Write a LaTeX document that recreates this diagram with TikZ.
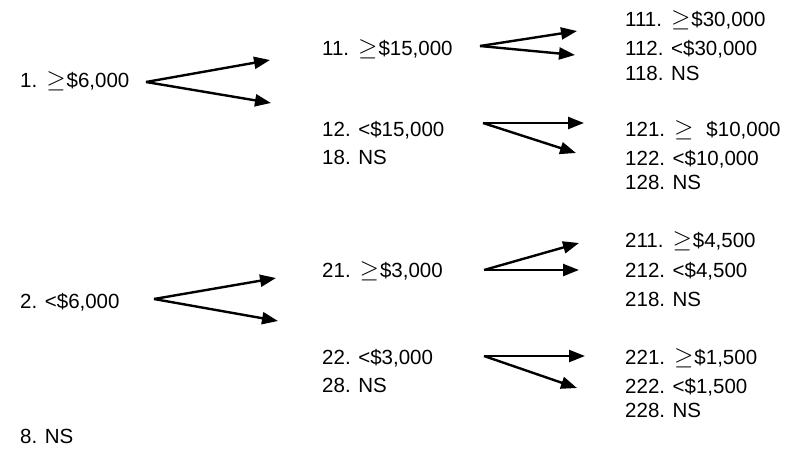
\documentclass[tikz,border=0pt]{standalone}
\usepackage{fontspec}
\setmainfont{Liberation Sans}
\usetikzlibrary{arrows.meta}
\newcommand{\mygeq}{\hspace{9pt}{\fontsize{25}{30}\selectfont$\geq$}\hspace{1pt}}
\newcommand{\mygeqs}{\hspace{9pt}{\fontsize{25}{30}\selectfont$\geq$}\hspace{13pt}}
\begin{document}
\begin{tikzpicture}[x=1pt,y=-1pt,
  lbl/.style={anchor=base west,inner sep=0pt,font=\fontsize{20.5}{24}\selectfont},
  arr/.style={line width=2.4pt,-{Triangle[length=16pt,width=12pt]}}]
\useasboundingbox (0,0) rectangle (794,458);
% column 1
\node[lbl] (n1) at (20,87) {1.\mygeq\$6,000};
\node[lbl] (n2) at (20,308) {2. <\$6,000};
\node[lbl] (n8) at (20,443) {8. NS};
% column 2
\node[lbl] (n11) at (322,55) {11.\mygeq\$15,000};
\node[lbl] (n12) at (322,136) {12. <\$15,000};
\node[lbl] (n18) at (322,164) {18. NS};
\node[lbl] (n21) at (322,277) {21.\mygeq\$3,000};
\node[lbl] (n22) at (322,364) {22. <\$3,000};
\node[lbl] (n28) at (322,392) {28. NS};
% column 3
\node[lbl] (n111) at (625,26) {111.\mygeq\$30,000};
\node[lbl] (n112) at (625,55) {112. <\$30,000};
\node[lbl] (n118) at (625,80) {118. NS};
\node[lbl] (n121) at (625,136) {121.\mygeqs\$10,000};
\node[lbl] (n122) at (625,165) {122. <\$10,000};
\node[lbl] (n128) at (625,189) {128. NS};
\node[lbl] (n211) at (625,247) {211.\mygeq\$4,500};
\node[lbl] (n212) at (625,277) {212. <\$4,500};
\node[lbl] (n218) at (625,306) {218. NS};
\node[lbl] (n221) at (625,364) {221.\mygeq\$1,500};
\node[lbl] (n222) at (625,393) {222. <\$1,500};
\node[lbl] (n228) at (625,417) {228. NS};
% arrow coordinates
\coordinate (s1) at (146,82);
\coordinate (t1a) at (270,60);
\coordinate (t1b) at (271,103);
\coordinate (s2) at (154,299);
\coordinate (t2a) at (276,278);
\coordinate (t2b) at (278,321);
\coordinate (s11) at (480,46);
\coordinate (t11a) at (577,31);
\coordinate (t11b) at (575,55);
\coordinate (s12) at (483,123);
\coordinate (t12a) at (584,123);
\coordinate (t12b) at (576,153);
\coordinate (s21) at (484,270);
\coordinate (t21a) at (579,243);
\coordinate (t21b) at (579,270);
\coordinate (s22) at (484,356);
\coordinate (t22a) at (585,356);
\coordinate (t22b) at (577,388);
\draw[arr] (s1) -- (t1a);
\draw[arr] (s1) -- (t1b);
\draw[arr] (s2) -- (t2a);
\draw[arr] (s2) -- (t2b);
\draw[arr] (s11) -- (t11a);
\draw[arr] (s11) -- (t11b);
\draw[arr] (s12) -- (t12a);
\draw[arr] (s12) -- (t12b);
\draw[arr] (s21) -- (t21a);
\draw[arr] (s21) -- (t21b);
\draw[arr] (s22) -- (t22a);
\draw[arr] (s22) -- (t22b);
\end{tikzpicture}
\end{document}
